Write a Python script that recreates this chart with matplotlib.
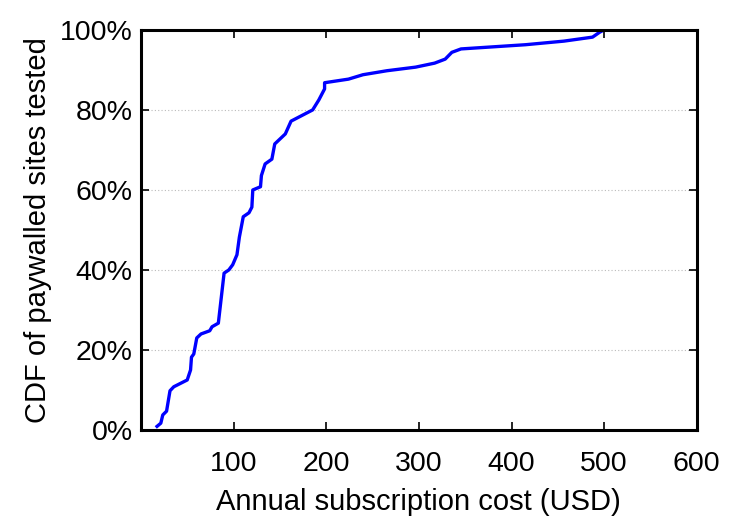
import matplotlib.pyplot as plt
from matplotlib.ticker import PercentFormatter

# cost (USD) vs cumulative share of sites
cost = [17.3, 21.4, 23.5, 27.6, 31.3, 35.4, 49.9, 53.5, 54.5, 57, 60.2, 64.8,
        74.2, 76.7, 83.5, 89.7, 94.8, 99, 103.6, 106.2, 110.4, 116.6, 119.7,
        120.7, 129, 130, 134, 141.3, 144.4, 155.8, 162, 185.3, 192, 198.2,
        198.2, 224, 239.6, 265.5, 296.5, 317, 328.4, 335.6, 345.5, 415,
        456.6, 487.5, 495, 499]
cdf = [0.9, 1.7, 3.75, 4.7, 9.8, 10.8, 12.5, 15, 18.2, 19, 23, 24, 24.8, 25.8,
       26.7, 39.2, 40, 41.3, 43.8, 48.2, 53.3, 54.3, 55.7, 60, 60.8, 63.6,
       66.5, 67.7, 71.5, 74, 77.2, 80, 82.5, 85.25, 86.8, 87.7, 88.8, 89.8,
       90.7, 91.7, 92.7, 94.4, 95.25, 96.3, 97.2, 98.2, 99.4, 99.9]

x_ticks = [100, 200, 300, 400, 500, 600]
y_ticks = [0, 20, 40, 60, 80, 100]

plt.rcParams['font.family'] = ['Liberation Sans', 'DejaVu Sans']

fig = plt.figure(figsize=(7.5, 5.25), dpi=100)
ax = fig.add_axes([0.188, 0.181, 0.741, 0.762])

ax.plot(cost, cdf, color='#0000ff', lw=2.4)

ax.set_xlim(0, 600)
ax.set_ylim(0, 100)
ax.set_xticks(x_ticks)
ax.set_yticks(y_ticks)
ax.yaxis.set_major_formatter(PercentFormatter(decimals=0))

# light dotted grid, horizontal only
for v in [20, 40, 60, 80]:
    ax.axhline(v, color='#bbbbbb', lw=0.8, ls=(0, (1, 2)), zorder=0)

for s in ax.spines.values():
    s.set_linewidth(2.2)
ax.tick_params(direction='in', top=True, right=True, length=6, width=1.2,
               labelsize=20.5)
ax.tick_params(axis='x', pad=15)
ax.tick_params(axis='y', pad=6)

ax.set_xlabel('Annual subscription cost (USD)', fontsize=21, labelpad=8)
ax.set_ylabel('CDF of paywalled sites tested', fontsize=21, labelpad=6)

fig.savefig('out.png', dpi=100)
